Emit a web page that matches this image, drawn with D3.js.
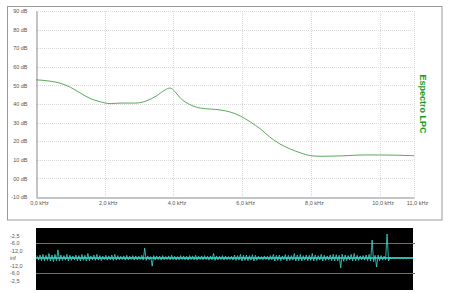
<!DOCTYPE html>
<html>
<head>
<meta charset="utf-8">
<script src="https://cdn.jsdelivr.net/npm/d3@7"></script>
<style>
  body { margin: 0; background: #fff; }
  svg { display: block; font-family: "Liberation Sans", Arial, sans-serif; }
</style>
</head>
<body>
<div id="my_dataviz"></div>
<script>
// LPC spectrum (kHz, dB)
var freqKHz = [0, 0.4, 0.7, 1.0, 1.28, 1.57, 1.87, 2.16, 2.45, 2.9, 3.2, 3.5, 3.75, 3.9, 4.05, 4.2, 4.5, 4.78, 5.07, 5.36, 5.65, 5.95, 6.24, 6.53, 6.8, 7.1, 7.4, 7.7, 8.0, 8.3, 8.9, 9.5, 10.0, 11.0];
var levelDb = [53, 52.3, 51.2, 49, 46, 43, 41.2, 40.2, 40.5, 40.5, 41.6, 44.3, 47.5, 48.6, 46.5, 43.2, 39.5, 37.8, 37.3, 36.8, 35.7, 33.5, 30.3, 26.6, 22.3, 18.5, 15.8, 13.7, 12.2, 11.9, 12.1, 12.6, 12.6, 12.2];
var dbTicks = [90, 80, 70, 60, 50, 40, 30, 20, 10, 0, -10];
var dbLabels = ["90 dB", "80 dB", "70 dB", "60 dB", "50 dB", "40 dB", "30 dB", "20 dB", "10 dB", "00 dB", "-10 dB"];
var khzTicks = [0, 2, 4, 6, 8, 10, 11];
var khzLabels = ["0,0 kHz", "2,0 kHz", "4,0 kHz", "6,0 kHz", "8,0 kHz", "10,0 kHz", "11,0 kHz"];

// waveform envelope (amplitude above / below zero)
var waveUp = [0.08,0.1,0.12,0.09,0.15,0.1,0.12,0.27,0.1,0.08,
  0.12,0.09,0.07,0.1,0.08,0.12,0.09,0.15,0.07,0.1,
  0.12,0.08,0.06,0.09,0.07,0.1,0.12,0.08,0.06,0.07,
  0.09,0.06,0.08,0.07,0.06,0.09,0.33,0.07,0.05,0.08,
  0.07,0.06,0.08,0.05,0.07,0.09,0.06,0.05,0.08,0.07,
  0.06,0.08,0.07,0.09,0.06,0.07,0.08,0.06,0.07,0.15,
  0.07,0.06,0.08,0.07,0.05,0.06,0.1,0.08,0.12,0.09,
  0.1,0.08,0.11,0.09,0.06,0.05,0.07,0.06,0.08,0.12,
  0.09,0.1,0.07,0.11,0.09,0.08,0.15,0.1,0.12,0.08,
  0.1,0.09,0.15,0.1,0.08,0.12,0.09,0.07,0.1,0.12,
  0.11,0.09,0.13,0.1,0.08,0.12,0.15,0.09,0.07,0.08,
  0.1,0.12,0.6,0.09,0.1,0.08,0.06,0.8,0.03,0.02,
  0.02,0.02,0.02,0.02,0.02,0.02];
var waveDown = [0.07,0.09,0.1,0.08,0.1,0.12,0.09,0.1,0.08,0.07,
  0.1,0.08,0.06,0.09,0.1,0.08,0.1,0.09,0.06,0.08,
  0.07,0.09,0.05,0.07,0.06,0.08,0.07,0.06,0.05,0.07,
  0.06,0.05,0.07,0.06,0.05,0.07,0.08,0.06,0.27,0.06,
  0.05,0.07,0.06,0.05,0.06,0.05,0.07,0.06,0.05,0.06,
  0.07,0.05,0.06,0.07,0.05,0.06,0.05,0.07,0.06,0.08,
  0.06,0.05,0.07,0.06,0.05,0.07,0.08,0.07,0.1,0.08,
  0.09,0.07,0.1,0.08,0.05,0.06,0.05,0.07,0.06,0.1,
  0.08,0.09,0.06,0.1,0.08,0.07,0.1,0.09,0.1,0.07,
  0.09,0.08,0.1,0.09,0.07,0.1,0.08,0.06,0.09,0.1,
  0.1,0.33,0.11,0.09,0.07,0.1,0.09,0.08,0.06,0.07,
  0.09,0.1,0.12,0.3,0.09,0.07,0.06,0.1,0.03,0.02,
  0.02,0.02,0.02,0.02,0.02,0.02];
var waveTicks = [0.75, 0.5, 0.25, 0, -0.25, -0.5, -0.75];
var waveLabels = ["-2,5", "-6,0", "-12,0", "inf", "-12,0", "-6,0", "-2,5"];

var svg = d3.select("#my_dataviz")
    .append("svg")
    .attr("width", 450)
    .attr("height", 293);

// outer frame of the spectrum panel
svg.append("rect")
    .attr("x", 7.5)
    .attr("y", 6.5)
    .attr("width", 434.5)
    .attr("height", 213.5)
    .style("fill", "none")
    .style("stroke", "#9a9a9a");

var x = d3.scaleLinear().domain([0, 11]).range([36, 414]);
var y = d3.scaleLinear().domain([-10, 90]).range([197, 11]);

// grid
svg.append("g")
    .selectAll("line")
    .data(dbTicks.filter(function (d) { return d > -10; }))
    .enter()
    .append("line")
    .attr("x1", 36)
    .attr("x2", 414)
    .attr("y1", function (d) { return Math.round(y(d)) + 0.5; })
    .attr("y2", function (d) { return Math.round(y(d)) + 0.5; })
    .style("stroke", "#d8d8d8")
    .style("stroke-dasharray", "1,1");
svg.append("g")
    .selectAll("line")
    .data(khzTicks.filter(function (d) { return d > 0; }))
    .enter()
    .append("line")
    .attr("x1", function (d) { return Math.round(x(d)) + 0.5; })
    .attr("x2", function (d) { return Math.round(x(d)) + 0.5; })
    .attr("y1", 11)
    .attr("y2", 197)
    .style("stroke", "#d8d8d8")
    .style("stroke-dasharray", "1,1");

// axes
var yAxis = svg.append("g")
    .attr("transform", "translate(36.5,0)")
    .call(d3.axisLeft(y).tickValues(dbTicks).tickSize(0).tickPadding(9)
        .tickFormat(function (d, i) { return dbLabels[i]; }));
var xAxis = svg.append("g")
    .attr("transform", "translate(0,197.5)")
    .call(d3.axisBottom(x).tickValues(khzTicks).tickSize(0).tickPadding(4)
        .tickFormat(function (d, i) { return khzLabels[i]; }));
[yAxis, xAxis].forEach(function (a) {
    a.select(".domain").style("stroke", "#8a8a8a");
    a.selectAll("text")
        .style("font-size", "5.5px")
        .style("fill", "#555");
});
xAxis.selectAll("text").attr("dx", "3px");

// LPC curve
var line = d3.line()
    .x(function (d) { return x(d[0]); })
    .y(function (d) { return y(d[1]); })
    .curve(d3.curveMonotoneX);
svg.append("path")
    .datum(d3.zip(freqKHz, levelDb))
    .attr("d", line)
    .style("fill", "none")
    .style("stroke", "#4a9e4a")
    .style("stroke-width", 0.9);

svg.append("text")
    .attr("transform", "translate(420,104) rotate(90)")
    .attr("text-anchor", "middle")
    .style("font-size", "9px")
    .style("font-weight", "bold")
    .style("fill", "#1e9a1e")
    .text("Espectro LPC");

// waveform panel
var wx = d3.scaleLinear().domain([0, waveUp.length]).range([37, 414]);
var wy = d3.scaleLinear().domain([-1, 1]).range([288, 228]);

svg.append("rect")
    .attr("x", 36)
    .attr("y", 228)
    .attr("width", 377)
    .attr("height", 62)
    .style("fill", "#000");

svg.append("g")
    .selectAll("line")
    .data([0.5, -0.5])
    .enter()
    .append("line")
    .attr("x1", 36)
    .attr("x2", 415)
    .attr("y1", function (d) { return Math.round(wy(d)) + 0.5; })
    .attr("y2", function (d) { return Math.round(wy(d)) + 0.5; })
    .style("stroke", "#6e6e6e");

svg.append("line")
    .attr("x1", 36)
    .attr("x2", 413)
    .attr("y1", wy(0))
    .attr("y2", wy(0))
    .style("stroke", "#38d8d0")
    .style("stroke-width", 1.5);

// zigzag between the upper and lower envelope
var wavePts = [];
waveUp.forEach(function (d, i) {
    wavePts.push([wx(i), wy(d)]);
    wavePts.push([wx(i + 0.5), wy(-waveDown[i])]);
});
svg.append("path")
    .datum(wavePts)
    .attr("d", d3.line())
    .style("fill", "none")
    .style("stroke", "#3fd9cf")
    .style("stroke-width", 0.8);

svg.append("g")
    .selectAll("text")
    .data(waveTicks)
    .enter()
    .append("text")
    .attr("x", 10)
    .attr("y", function (d) { return wy(d) + 2; })
    .style("font-size", "5.5px")
    .style("fill", "#555")
    .text(function (d, i) { return waveLabels[i]; });
</script>
</body>
</html>
